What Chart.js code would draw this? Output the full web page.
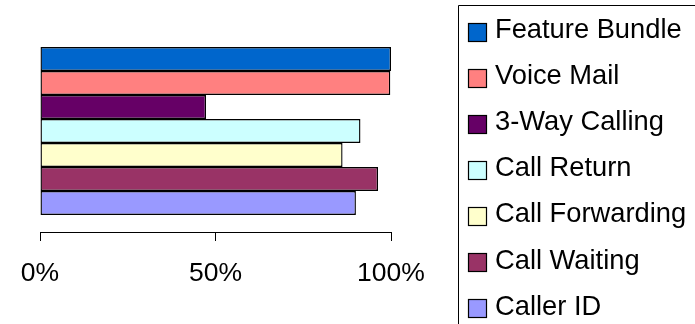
<!DOCTYPE html>
<html>
<head>
<meta charset="utf-8">
<script src="https://cdn.jsdelivr.net/npm/chart.js@4/dist/chart.umd.min.js"></script>
<style>
  html, body { margin: 0; padding: 0; background: #fff; }
  #wrap { position: relative; width: 695px; height: 324px; }
</style>
</head>
<body>
<div id="wrap"><canvas id="c" width="695" height="324"></canvas></div>
<script>
// ---- data ----
const categories = [''];
const seriesNames = ['Feature Bundle', 'Voice Mail', '3-Way Calling', 'Call Return', 'Call Forwarding', 'Call Waiting', 'Caller ID'];
const seriesValues = [100, 99.8, 47.3, 91.3, 86.2, 96.3, 90.0];
const seriesColors = ['#0066CC', '#FF8080', '#660066', '#CCFFFF', '#FFFFCC', '#993366', '#9999FF'];
const tickValues = [0, 50, 100];
const tickLabels = ['0%', '50%', '100%'];

const FONT = '"Liberation Sans", Arial, sans-serif';

const datasets = seriesNames.map((name, i) => ({
  label: name,
  data: [seriesValues[i]],
  backgroundColor: seriesColors[i],
  borderColor: '#000',
  borderWidth: 1.4,
  borderSkipped: false,
  categoryPercentage: 0.8317,
  barPercentage: 1
}));

const legendPlugin = {
  id: 'boxLegend',
  afterDraw(chart) {
    const ctx = chart.ctx;
    ctx.save();
    // frame
    ctx.strokeStyle = '#000';
    ctx.lineWidth = 1;
    ctx.beginPath();
    ctx.moveTo(458.5, 330);
    ctx.lineTo(458.5, 5.5);
    ctx.lineTo(700, 5.5);
    ctx.stroke();
    ctx.font = '27.3px ' + FONT;
    ctx.textBaseline = 'alphabetic';
    ctx.textAlign = 'left';
    chart.data.datasets.forEach((ds, i) => {
      const top = 22.7 + i * 46.1;
      ctx.fillStyle = ds.backgroundColor;
      ctx.fillRect(468, Math.round(top), 19, 19);
      ctx.strokeStyle = '#000';
      ctx.lineWidth = 1.2;
      ctx.strokeRect(468.5, Math.round(top) + 0.5, 18, 18);
      ctx.fillStyle = '#000';
      ctx.fillText(ds.label, 495, top + 15.3);
    });
    ctx.restore();
  }
};

new Chart(document.getElementById('c'), {
  type: 'bar',
  data: { labels: categories, datasets },
  options: {
    indexAxis: 'y',
    responsive: false,
    animation: false,
    layout: { padding: { left: 40, right: 304, top: 30, bottom: 0 } },
    plugins: { legend: { display: false }, tooltip: { enabled: false } },
    scales: {
      y: { display: false },
      x: {
        min: 0, max: 100,
        afterBuildTicks: (s) => { s.ticks = tickValues.map(v => ({ value: v })); },
        afterFit: (s) => { s.height = 92; },
        ticks: {
          autoSkip: false,
          maxRotation: 0,
          padding: 17,
          color: '#000',
          font: { family: FONT, size: 26.5 },
          callback: (v) => tickLabels[tickValues.indexOf(v)]
        },
        grid: { display: true, drawOnChartArea: false, drawTicks: true, tickLength: 9, color: '#000', lineWidth: 1 },
        border: { display: true, color: '#000', width: 1 }
      }
    }
  },
  plugins: [legendPlugin]
});
</script>
</body>
</html>
